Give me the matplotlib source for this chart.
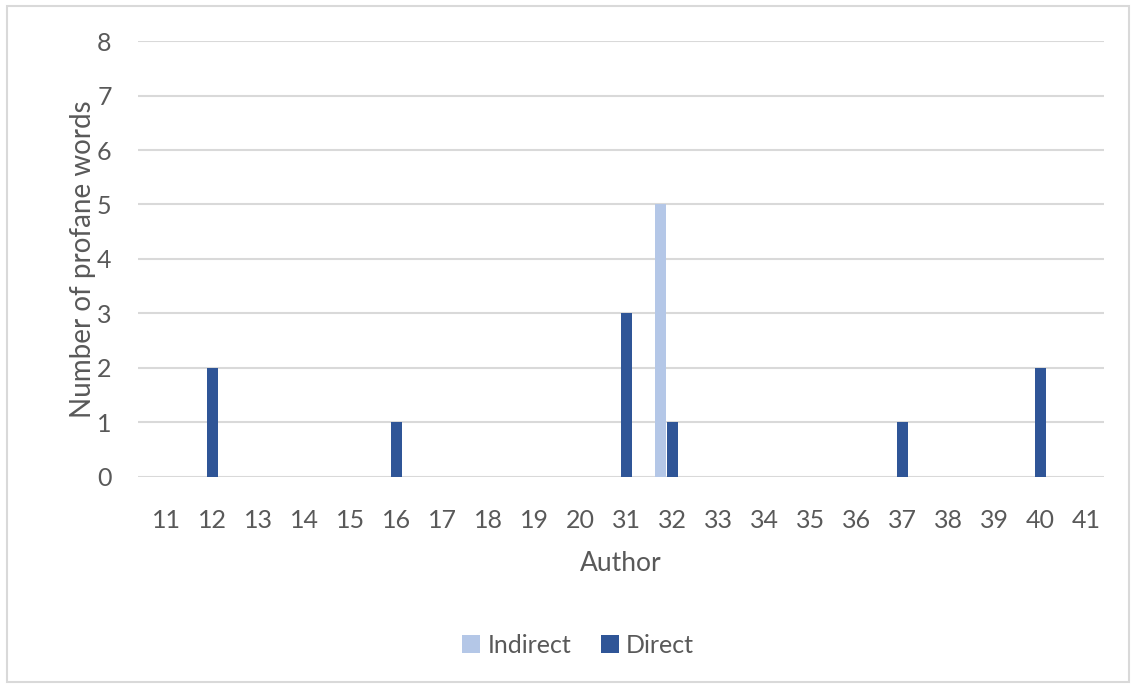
import numpy as np
import matplotlib.pyplot as plt
from matplotlib.patches import Rectangle

# Data
authors = ['11', '12', '13', '14', '15', '16', '17', '18', '19', '20',
           '31', '32', '33', '34', '35', '36', '37', '38', '39', '40', '41']
indirect = [0, 0, 0, 0, 0, 0, 0, 0, 0, 0, 0, 5, 0, 0, 0, 0, 0, 0, 0, 0, 0]
direct = [0, 2, 0, 0, 0, 1, 0, 0, 0, 0, 3, 1, 0, 0, 0, 0, 1, 0, 0, 2, 0]

plt.rcParams['font.family'] = ['Lato', 'DejaVu Sans']
text_color = '#595959'

fig = plt.figure(figsize=(11.36, 6.88), dpi=100)
ax = fig.add_axes([0.1215, 0.3067, 0.8505, 0.6337])

x = np.arange(len(authors))
w = 0.24
ax.bar(x - 0.27, indirect, width=w, color='#B4C7E7', label='Indirect', zorder=3)
ax.bar(x, direct, width=w, color='#2F5597', label='Direct', zorder=3)

ax.set_xlim(-0.62, len(authors) - 0.62)
ax.set_ylim(0, 8)
ax.set_yticks(range(0, 9))
ax.set_xticks(x)
ax.set_xticklabels(authors)
ax.grid(axis='y', color='#D9D9D9', linewidth=1.5, zorder=0)
for s in ax.spines.values():
    s.set_visible(False)
ax.tick_params(length=0, labelsize=18, colors=text_color)
ax.tick_params(axis='y', pad=19)
ax.tick_params(axis='x', pad=23)

ax.set_xlabel('Author', fontsize=19, color=text_color, labelpad=14)
ax.set_ylabel('Number of profane words', fontsize=20, color=text_color, labelpad=1)

fig.legend(loc='center', bbox_to_anchor=(0.509, 0.062), ncol=2, frameon=False,
           fontsize=18, labelcolor=text_color, handlelength=0.7, handleheight=0.7,
           handletextpad=0.3, columnspacing=1.2)

fig.patches.append(Rectangle((0.006, 0.009), 0.988, 0.982, transform=fig.transFigure,
                             fill=False, edgecolor='#D9D9D9', linewidth=1.5))

plt.savefig('out.png', dpi=100)
